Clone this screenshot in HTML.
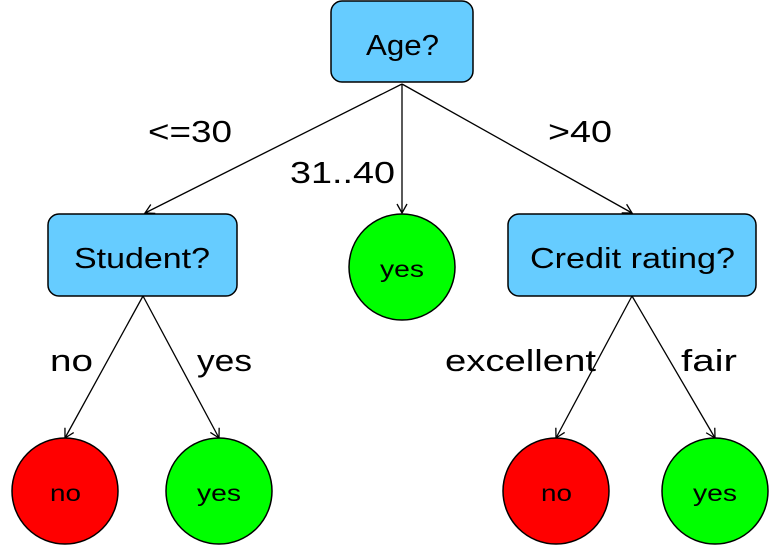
<!DOCTYPE html>
<html><head><meta charset="utf-8"><style>html,body{margin:0;padding:0;background:#fff}svg{display:block}</style></head><body>
<svg width="780" height="545" viewBox="0 0 780 545" xmlns="http://www.w3.org/2000/svg" font-family="Liberation Sans, sans-serif">
<defs><marker id="a" markerWidth="12" markerHeight="12" refX="10" refY="6" orient="auto" markerUnits="userSpaceOnUse"><path d="M1,1 L10,6 L1,11" fill="none" stroke="#000" stroke-width="1.3"/></marker></defs>
<g stroke="#000" stroke-width="1.3" marker-end="url(#a)">
<line x1="402" y1="84" x2="145" y2="213"/>
<line x1="402" y1="84" x2="402" y2="213"/>
<line x1="402" y1="84" x2="632" y2="213"/>
<line x1="143" y1="296" x2="65" y2="438"/>
<line x1="143" y1="296" x2="219" y2="438"/>
<line x1="632" y1="296" x2="556" y2="438"/>
<line x1="632" y1="296" x2="715" y2="438"/>
</g>
<g fill="#66CCFF" stroke="#000" stroke-width="1.5">
<rect x="331" y="1" width="142" height="81" rx="11"/>
<rect x="48" y="214" width="189" height="82" rx="11"/>
<rect x="508" y="214" width="248" height="82" rx="11"/>
</g>
<g stroke="#000" stroke-width="1.5">
<circle cx="402" cy="267" r="53" fill="#00FF00"/>
<circle cx="65" cy="491" r="53" fill="#FF0000"/>
<circle cx="219" cy="491" r="53" fill="#00FF00"/>
<circle cx="556" cy="491" r="53" fill="#FF0000"/>
<circle cx="715" cy="491" r="53" fill="#00FF00"/>
</g>
<g font-size="29" lengthAdjust="spacingAndGlyphs">
<text x="366" y="55" textLength="73" lengthAdjust="spacingAndGlyphs">Age?</text>
<text x="74" y="268" textLength="136" lengthAdjust="spacingAndGlyphs">Student?</text>
<text x="530" y="268" textLength="205" lengthAdjust="spacingAndGlyphs">Credit rating?</text>
</g>
<g font-size="23">
<text x="380" y="277" textLength="44" lengthAdjust="spacingAndGlyphs">yes</text>
<text x="50" y="501" textLength="31" lengthAdjust="spacingAndGlyphs">no</text>
<text x="197" y="501" textLength="44" lengthAdjust="spacingAndGlyphs">yes</text>
<text x="541" y="501" textLength="31" lengthAdjust="spacingAndGlyphs">no</text>
<text x="693" y="501" textLength="44" lengthAdjust="spacingAndGlyphs">yes</text>
</g>
<g font-size="31">
<text x="148" y="142" textLength="84" lengthAdjust="spacingAndGlyphs">&lt;=30</text>
<text x="290" y="183" textLength="105" lengthAdjust="spacingAndGlyphs">31..40</text>
<text x="548" y="142" textLength="64" lengthAdjust="spacingAndGlyphs">&gt;40</text>
<text x="50" y="371" textLength="43" lengthAdjust="spacingAndGlyphs">no</text>
<text x="197" y="371" textLength="55" lengthAdjust="spacingAndGlyphs">yes</text>
<text x="445" y="371" textLength="151" lengthAdjust="spacingAndGlyphs">excellent</text>
<text x="681" y="371" textLength="56" lengthAdjust="spacingAndGlyphs">fair</text>
</g>
</svg>
</body></html>
